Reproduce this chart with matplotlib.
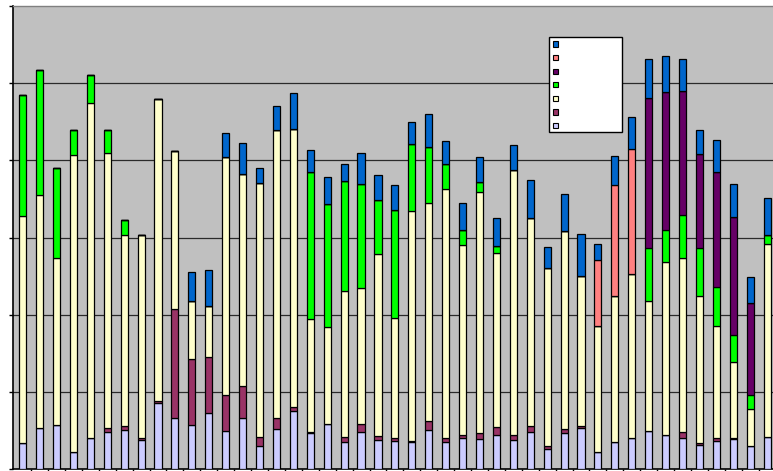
import matplotlib
matplotlib.use("Agg")
import matplotlib.pyplot as plt
from matplotlib.patches import Rectangle
import numpy as np

# Stacked series, bottom to top
lavender = [0.34, 0.53, 0.57, 0.23, 0.40, 0.48, 0.51, 0.38, 0.86, 0.67,
            0.57, 0.73, 0.50, 0.67, 0.30, 0.52, 0.76, 0.47, 0.59, 0.35,
            0.48, 0.38, 0.37, 0.35, 0.51, 0.35, 0.41, 0.39, 0.45, 0.38,
            0.48, 0.26, 0.47, 0.53, 0.22, 0.36, 0.41, 0.49, 0.45, 0.41,
            0.31, 0.37, 0.39, 0.30, 0.42]
maroon = [0.00, 0.00, 0.00, 0.00, 0.00, 0.06, 0.05, 0.02, 0.03, 1.40,
          0.86, 0.73, 0.46, 0.41, 0.12, 0.14, 0.05, 0.01, 0.00, 0.07,
          0.11, 0.05, 0.04, 0.02, 0.11, 0.05, 0.03, 0.08, 0.10, 0.07,
          0.08, 0.04, 0.05, 0.03, 0.01, 0.00, 0.00, 0.00, 0.00, 0.07,
          0.03, 0.04, 0.02, 0.00, 0.00]
yellow = [2.94, 3.02, 2.17, 3.84, 4.35, 3.55, 2.47, 2.63, 3.91, 2.05,
          0.75, 0.65, 3.09, 2.75, 3.29, 3.74, 3.60, 1.47, 1.25, 1.89,
          1.76, 2.36, 1.55, 2.97, 2.83, 3.23, 2.46, 3.12, 2.25, 3.43,
          2.70, 2.31, 2.57, 1.94, 1.63, 1.88, 2.12, 1.69, 2.23, 2.25,
          1.91, 1.45, 0.98, 0.48, 2.50]
green = [1.57, 1.62, 1.16, 0.32, 0.35, 0.30, 0.20, 0.00, 0.00, 0.00,
         0.00, 0.00, 0.00, 0.00, 0.00, 0.00, 0.00, 1.90, 1.60, 1.43,
         1.34, 0.70, 1.40, 0.87, 0.72, 0.33, 0.20, 0.13, 0.09, 0.00,
         0.00, 0.00, 0.00, 0.00, 0.00, 0.00, 0.00, 0.69, 0.42, 0.56,
         0.61, 0.50, 0.35, 0.18, 0.12]
purple = [0.00] * 37 + [1.94, 1.79, 1.61, 1.22, 1.49, 1.53, 1.20, 0.00]
salmon = [0.00] * 34 + [0.85, 1.44, 1.62] + [0.00] * 8
blue = [0.00, 0.00, 0.00, 0.00, 0.00, 0.00, 0.00, 0.00, 0.00, 0.00,
        0.37, 0.47, 0.31, 0.40, 0.19, 0.31, 0.46, 0.28, 0.35, 0.22,
        0.40, 0.32, 0.32, 0.29, 0.43, 0.29, 0.35, 0.33, 0.36, 0.32,
        0.49, 0.27, 0.48, 0.55, 0.21, 0.38, 0.41, 0.50, 0.46, 0.41,
        0.31, 0.41, 0.42, 0.33, 0.47]

series = [
    (lavender, "#CCCCFF"),
    (maroon, "#993366"),
    (yellow, "#FFFFCC"),
    (green, "#00FF00"),
    (purple, "#660066"),
    (salmon, "#FF8080"),
    (blue, "#0066CC"),
]

W, H = 773, 471
fig = plt.figure(figsize=(W / 100, H / 100), dpi=100)
fig.patch.set_facecolor("white")

# plot area runs off the right edge of the canvas
left_px, right_px = 13, 790
bottom_px, top_px = 469.3, 6
ax = fig.add_axes([left_px / W, (H - bottom_px) / H,
                   (right_px - left_px) / W, (bottom_px - top_px) / H])
ax.set_facecolor("#C0C0C0")

step = 16.92  # pixels per category
x = np.arange(len(lavender))
ax.set_xlim(-0.57, -0.57 + (right_px - left_px) / step)
ax.set_ylim(0, 6)

for yv in range(1, 6):
    ax.axhline(yv, color="#2a2a2a", lw=0.9, zorder=1)

base = np.zeros(len(x))
for vals, col in series:
    v = np.array(vals)
    ax.bar(x, v, bottom=base, width=0.42, color=col, edgecolor="black",
           linewidth=0.9, zorder=3)
    base += v

ax.set_yticks(np.arange(0, 7, 1))
ax.set_yticklabels([])
ax.set_xticks(x + 0.5)
ax.set_xticklabels([])
ax.tick_params(axis="y", direction="out", length=3, width=1, color="black")
ax.tick_params(axis="x", direction="out", length=3, width=1, color="black")

ax.spines["left"].set_color("black")
ax.spines["left"].set_linewidth(1.2)
ax.spines["bottom"].set_color("black")
ax.spines["bottom"].set_linewidth(1.2)
ax.spines["top"].set_color("#808080")
ax.spines["top"].set_linewidth(1.0)
ax.spines["right"].set_visible(False)

# legend box with colour keys only (series carry no names)
def fx(px):
    return px / W

def fy(py):
    return (H - py) / H

fig.add_artist(Rectangle((fx(549.3), fy(131.7)), fx(622.3) - fx(549.3),
                         fy(36.7) - fy(131.7), transform=fig.transFigure,
                         facecolor="white", edgecolor="black", lw=1.0,
                         zorder=10))
key_y = [44, 57.7, 71.7, 84.7, 98.7, 112, 125.7]
for (vals, col), ky in zip(series[::-1], key_y):
    s = 5.3
    fig.add_artist(Rectangle((fx(555.3 - s / 2), fy(ky + s / 2)), s / W, s / H,
                             transform=fig.transFigure, facecolor=col,
                             edgecolor="black", lw=0.8, zorder=11))

fig.savefig("out.png", dpi=100)
